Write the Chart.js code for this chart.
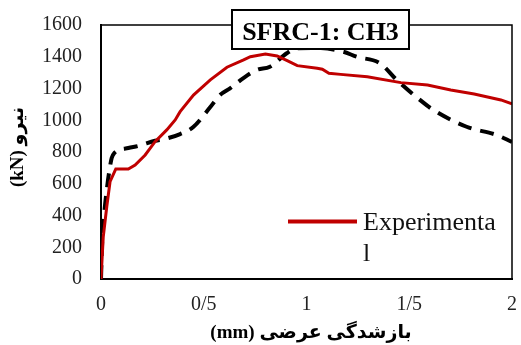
<!DOCTYPE html>
<html>
<head>
<meta charset="utf-8">
<script src="https://cdn.jsdelivr.net/npm/chart.js@4.4.1/dist/chart.umd.min.js"></script>
<style>
    html, body { margin: 0; padding: 0; background: #fff; }
    canvas { display: block; }
</style>
</head>
<body>
<canvas id="chart" width="521" height="345"></canvas>
<script>
/* =====================================================
   DATA
===================================================== */

// Experimental curve (red)
const expX = [0, 0.011, 0.028, 0.044, 0.072, 0.133, 0.166, 0.215, 0.263, 0.320,
    0.361, 0.385, 0.450, 0.532, 0.613, 0.694, 0.727, 0.800, 0.857, 0.906,
    0.955, 1.052, 1.077, 1.109, 1.166, 1.296, 1.459, 1.589, 1.702, 1.816,
    1.946, 2.0];
const expY = [0, 266, 455, 613, 693, 693, 718, 781, 865, 939,
    1002, 1054, 1159, 1254, 1334, 1380, 1400, 1417, 1405, 1375,
    1344, 1327, 1321, 1296, 1289, 1274, 1237, 1222, 1191, 1165,
    1128, 1103];

// Numerical curve (black dashed)
const modelX = [0, 0.006, 0.016, 0.028, 0.039, 0.052, 0.065, 0.133, 0.182, 0.263,
    0.311, 0.385, 0.449, 0.532, 0.579, 0.628, 0.693, 0.758, 0.822, 0.904,
    0.952, 1.05, 1.179, 1.244, 1.358, 1.439, 1.552, 1.617, 1.779, 1.925, 2.0];
const modelY = [0, 246, 416, 561, 668, 762, 794, 825, 838, 871,
    882, 913, 957, 1083, 1159, 1201, 1266, 1317, 1337, 1422,
    1453, 1455, 1432, 1400, 1359, 1254, 1128, 1065, 959, 907, 863];

const chartTitle = "SFRC-1: CH3";
const xTitle = "بازشدگی عرضی (mm)";
const yTitle = "نیرو (kN)";
const legendLines = ["Experimenta", "l"];

const serif = "'Liberation Serif', 'DejaVu Sans', serif";


/* =====================================================
   HELPERS
===================================================== */

function toPoints(xs, ys) {
    return xs.map((x, i) => ({ x: x, y: ys[i] }));
}


/* =====================================================
   EXTRA DRAWING (frame, title box, legend, axis titles)
===================================================== */

const decorPlugin = {
    id: "decor",
    afterDatasetsDraw(chart) {
        const ctx = chart.ctx;
        const a = chart.chartArea;

        ctx.save();

        // top and right frame
        ctx.strokeStyle = "#000";
        ctx.lineWidth = 1.5;
        ctx.beginPath();
        ctx.moveTo(a.left, a.top);
        ctx.lineTo(a.right, a.top);
        ctx.lineTo(a.right, a.bottom);
        ctx.stroke();

        // title box
        ctx.fillStyle = "#fff";
        ctx.fillRect(232, 10, 177, 39);
        ctx.lineWidth = 2;
        ctx.strokeRect(232, 10, 177, 39);
        ctx.fillStyle = "#000";
        ctx.font = "bold 26px " + serif;
        ctx.textAlign = "center";
        ctx.textBaseline = "alphabetic";
        ctx.fillText(chartTitle, 320.5, 39.5);

        // legend
        const ds = chart.data.datasets[0];
        ctx.strokeStyle = ds.borderColor;
        ctx.lineWidth = 4;
        ctx.beginPath();
        ctx.moveTo(288, 221.5);
        ctx.lineTo(357, 221.5);
        ctx.stroke();
        ctx.fillStyle = "#111";
        ctx.font = "26px " + serif;
        ctx.textAlign = "left";
        legendLines.forEach((t, i) => ctx.fillText(t, 363, 230 + i * 31));

        // axis titles
        ctx.direction = "rtl";
        ctx.fillStyle = "#000";
        ctx.font = "bold 19px " + serif;
        ctx.textAlign = "center";
        ctx.textBaseline = "middle";
        ctx.fillText(xTitle, 311, 333);

        ctx.translate(18, 147);
        ctx.rotate(-Math.PI / 2);
        ctx.fillText(yTitle, 0, 0);

        ctx.restore();
    }
};


/* =====================================================
   CHART
===================================================== */

new Chart(document.getElementById("chart"), {
    type: "line",
    data: {
        datasets: [
            {
                label: "Experimental",
                data: toPoints(expX, expY),
                borderColor: "#C00000",
                borderWidth: 3,
                pointRadius: 0,
                tension: 0
            },
            {
                label: "Numerical",
                data: toPoints(modelX, modelY),
                borderColor: "#000",
                borderWidth: 4,
                borderDash: [14, 9],
                pointRadius: 0,
                cubicInterpolationMode: "monotone"
            }
        ]
    },
    options: {
        responsive: false,
        animation: false,
        layout: { padding: { left: 0, right: 9, top: 25, bottom: 0 } },
        plugins: {
            legend: { display: false },
            title: { display: false },
            tooltip: { enabled: false }
        },
        scales: {
            x: {
                type: "linear",
                min: 0,
                max: 2,
                grid: { display: false, drawTicks: false },
                border: { color: "#000", width: 2 },
                ticks: {
                    stepSize: 0.5,
                    padding: 14,
                    color: "#222",
                    font: { family: serif, size: 20 },
                    callback: v => String(v).replace(".", "/")
                },
                afterFit: s => {
                    s.height = 66;
                    s.paddingLeft = 0;
                    s.paddingRight = 0;
                }
            },
            y: {
                min: 0,
                max: 1600,
                grid: { display: false, drawTicks: false },
                border: { color: "#000", width: 2 },
                ticks: {
                    stepSize: 200,
                    padding: 19,
                    color: "#222",
                    font: { family: serif, size: 20 },
                    callback: v => String(v)
                },
                afterFit: s => {
                    s.width = 101;
                    s.paddingTop = 0;
                    s.paddingBottom = 0;
                }
            }
        }
    },
    plugins: [decorPlugin]
});
</script>
</body>
</html>
